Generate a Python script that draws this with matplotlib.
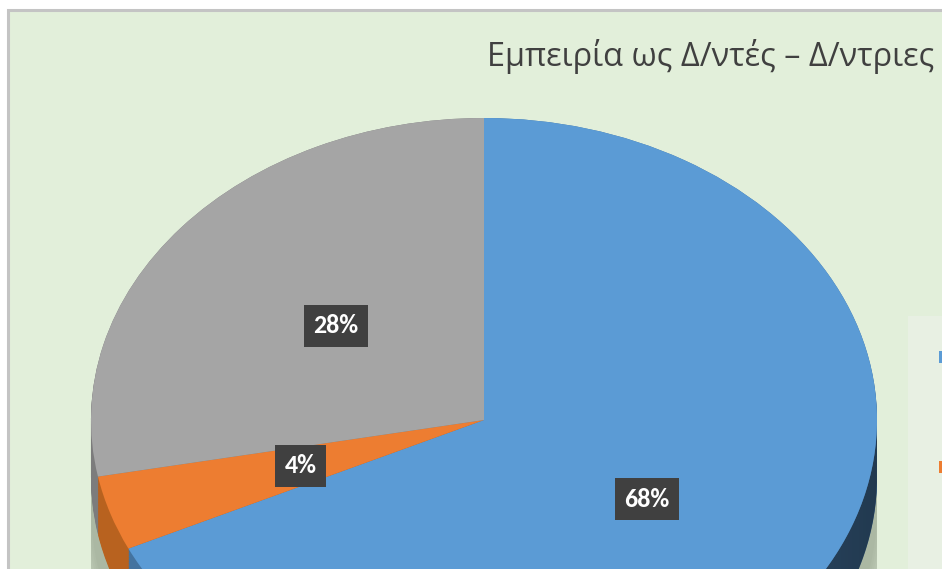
import numpy as np
import matplotlib
matplotlib.use("Agg")
import matplotlib.pyplot as plt
from matplotlib.patches import Rectangle, Ellipse, PathPatch
from matplotlib.path import Path
from matplotlib import font_manager
from matplotlib.font_manager import FontProperties
from matplotlib import ft2font

# ---- data ----
categories = ["Κατηγορία 1", "Κατηγορία 2", "Κατηγορία 3"]
values = [68, 4, 28]
title = "Εμπειρία ως Δ/ντές – Δ/ντριες"

top_colors = ["#5B9BD5", "#ED7D31", "#A5A5A5"]
side_colors = ["#44739F", "#B8621F", "#7C7C7C"]


def pick_font(cands, weight="normal"):
    for c in cands:
        try:
            path = font_manager.findfont(FontProperties(family=c, weight=weight),
                                         fallback_to_default=False)
            cm = ft2font.FT2Font(path).get_charmap()
            if all(ord(ch) in cm for ch in "ΕμπειρίαΔέςω–%0123456789"):
                return c
        except Exception:
            continue
    return "DejaVu Sans"


title_font = pick_font(["Open Sans", "Noto Sans"])
label_font = pick_font(["Carlito", "Open Sans"], "bold")

W, H = 942, 569
fig = plt.figure(figsize=(W / 100, H / 100), dpi=100)
fig.patch.set_facecolor("white")

# background axes in pixel coords
bg = fig.add_axes([0, 0, 1, 1])
bg.set_xlim(0, W)
bg.set_ylim(H, 0)
bg.axis("off")
bg.add_patch(Rectangle((8, 10), W + 20, H + 20, facecolor="#E2EFDA",
                       edgecolor="#C4C4C4", linewidth=2.2))
# partial legend box
bg.add_patch(Rectangle((908, 316), 60, 300, facecolor="#E8F0E3", edgecolor="none"))
leg_y = [357, 467]
for c, yy in zip(top_colors[:2], leg_y):
    bg.add_patch(Rectangle((939, yy - 6), 8, 12, facecolor=c, edgecolor="none"))

ttl = bg.text(934, 56, title, ha="right", va="center", fontsize=23,
              family=[title_font, "DejaVu Sans"], color="#404040")

# pie axes: unit circle -> ellipse rx=393, ry=302 centered at (484,420)
cx, cy, rx, ry = 484, 420, 393, 302
left = (cx - rx) / W
bottom = (H - (cy + ry)) / H
ax = fig.add_axes([left, bottom, 2 * rx / W, 2 * ry / H])
ax.axis("off")

depth = 58 / ry

# soft outer shadow (mostly visible at the sides, lower half)
for e in np.linspace(0.06, 0.0, 12):
    ax.add_patch(Ellipse((0, -0.3), 2 * (1 + e), 2 * (1 + e * 0.6),
                         facecolor="#5f6e55", edgecolor="none", alpha=0.04, zorder=0))

# 3D side: stacked layers
n_layers = 40
for off in np.linspace(depth, 0, n_layers):
    ax.pie(values, colors=side_colors, startangle=90, counterclock=False,
           center=(0, -off), radius=1, wedgeprops=dict(linewidth=0))

# gradient darkening of the side band (lighting)
t = np.linspace(np.pi, 2 * np.pi, 200)
upper = np.column_stack([np.cos(t), np.sin(t)])
lower = np.column_stack([np.cos(t[::-1]), np.sin(t[::-1]) - depth])
band = Path(np.vstack([upper, lower, upper[:1]]))
clip = PathPatch(band, transform=ax.transData, facecolor="none", edgecolor="none")
grad = np.zeros((2, 256, 4))
xs = np.linspace(0, 1, 256)
grad[..., 3] = np.clip((xs - 0.3) / 0.7, 0, 1) ** 1.2 * 0.5
im = ax.imshow(grad, extent=(-1, 1, -1 - depth - 0.05, 0.05), aspect="auto",
               interpolation="bilinear", zorder=3)
im.set_clip_path(clip)

# top face
wedges, texts, autotexts = ax.pie(
    values, colors=top_colors, startangle=90, counterclock=False,
    radius=1, wedgeprops=dict(linewidth=0),
    autopct=lambda p: f"{p:.0f}%", pctdistance=0.49,
    textprops=dict(color="white", fontsize=16, fontweight="bold",
                   family=[label_font, "DejaVu Sans"]))
for w in wedges:
    w.set_zorder(4)
for at in autotexts:
    at.set_zorder(7)
    at.set_bbox(dict(boxstyle="square,pad=0.36", facecolor="#404040", edgecolor="none"))

ax.set_aspect("auto")
ax.set_xlim(-1, 1)
ax.set_ylim(-1, 1)

# fit title width (~450 px in the reference)
fig.canvas.draw()
tw = ttl.get_window_extent().width
ttl.set_fontsize(23 * 450 / tw)

# fit label boxes to the reference size (28% box ~64 px wide)
fig.canvas.draw()
bw = autotexts[2].get_bbox_patch().get_window_extent().width
if abs(bw - 64) > 3:
    for at in autotexts:
        at.set_fontsize(16 * 64 / bw)

# drop shadows of label boxes (figure pixel coords)
fig.canvas.draw()
for at in autotexts:
    bb = at.get_bbox_patch().get_window_extent()
    for k, a in [(5, 0.06), (4, 0.1), (3, 0.14)]:
        bg.add_patch(Rectangle((bb.x0 + k, H - bb.y1 + k), bb.width, bb.height,
                               facecolor="black", alpha=a, edgecolor="none", zorder=5))

fig.savefig("out.png", dpi=100, facecolor=fig.get_facecolor())
